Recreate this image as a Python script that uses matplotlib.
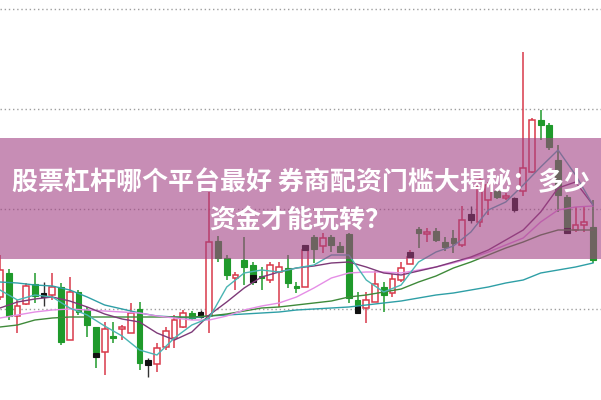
import matplotlib
matplotlib.use("Agg")
import matplotlib.pyplot as plt
from matplotlib.patches import Rectangle

plt.rcParams['font.family'] = ['Noto Sans CJK SC', 'DejaVu Sans']

# candle data (price units)
opens  = [103, 127, 84, 96, 116, 103, 105, 113, 60, 108, 90, 73, 48, 64, 71, 67, 91, 35, 36, 53,
          62, 73, 87, 83, 84, 159, 142, 122, 140, 135, 124, 120, 128, 132, 114, 113, 163, 154, 163, 154,
          166, 100, 92, 98, 113, 107, 120, 136, 171, 166, 169, 158, 162, 155, 180, 178, 200, 209, 202, 190,
          209, 228, 280, 275, 240, 203, 170, 175, 173]
closes = [130, 84, 94, 114, 104, 107, 113, 58, 108, 88, 75, 48, 71, 62, 73, 87, 37, 40, 52, 69,
          80, 87, 82, 88, 158, 142, 125, 125, 133, 125, 122, 135, 133, 117, 112, 150, 151, 162, 155, 148,
          102, 95, 100, 116, 105, 121, 132, 143, 167, 168, 160, 153, 157, 180, 186, 220, 215, 203, 204, 202,
          232, 280, 275, 253, 205, 172, 175, 178, 140]
highs  = [145, 131, 100, 117, 127, 118, 127, 117, 123, 110, 93, 73, 78, 78, 75, 97, 98, 42, 57, 73,
          85, 90, 89, 90, 208, 164, 145, 128, 163, 138, 133, 138, 138, 145, 118, 155, 165, 167, 165, 158,
          167, 108, 108, 129, 118, 126, 138, 150, 173, 172, 172, 163, 170, 194, 194, 222, 218, 212, 207, 203,
          348, 282, 290, 277, 255, 205, 193, 193, 200]
lows   = [100, 80, 67, 95, 97, 94, 100, 55, 60, 85, 63, 32, 25, 57, 60, 67, 30, 23, 28, 50,
          52, 72, 80, 82, 67, 138, 120, 110, 115, 115, 110, 117, 93, 112, 107, 113, 137, 147, 148, 147,
          97, 87, 77, 98, 88, 103, 118, 136, 152, 158, 158, 149, 147, 153, 177, 173, 185, 201, 200, 188,
          204, 227, 260, 250, 188, 167, 168, 168, 137]
# candles drawn as dark signal boxes
flag_candles = [5, 17, 23, 54, 59]
# extra dark boxes on top of candles: index, low, high
box_idx  = [11, 29, 35, 41, 47, 65]
box_low  = [43, 118, 150, 87, 143, 167]
box_high = [47, 125, 155, 94, 148, 172]

# moving averages sampled every other candle
ma_idx = list(range(0, 69, 2))
ma5  = [110, 100, 105, 103, 92, 85, 74, 64, 50, 45, 62, 75, 82, 113, 127, 130, 128, 132, 135, 145,
        145, 120, 108, 115, 138, 148, 154, 168, 190, 198, 215, 233, 250, 225, 195]
ma10 = [92, 98, 101, 103, 99, 93, 86, 81, 78, 67, 60, 68, 85, 98, 112, 123, 128, 132, 134, 137,
        138, 133, 127, 125, 129, 133, 138, 143, 150, 160, 170, 188, 212, 218, 195]
ma20 = [82, 85, 88, 90, 91, 90, 89, 88, 87, 84, 82, 80, 80, 84, 90, 94, 97, 103, 112, 122,
        127, 128, 128, 127, 130, 133, 137, 142, 148, 155, 162, 178, 190, 193, 194]
ma30 = [73, 75, 80, 82, 83, 83, 83, 83, 83, 83, 83, 83, 84, 86, 89, 92, 93, 95, 97, 99,
        103, 105, 108, 111, 118, 124, 132, 138, 145, 152, 158, 165, 170, 170, 170]
ma60 = [118, 117, 115, 114, 110, 103, 95, 91, 87, 84, 83, 82, 84, 85, 86, 87, 88, 90, 91, 92,
        93, 95, 97, 99, 102, 105, 107, 110, 113, 117, 120, 127, 130, 133, 137]

grid_levels = [91, 191, 291, 391]
title_1 = "股票杠杆哪个平台最好 券商配资门槛大揭秘：多少"
title_2 = "资金才能玩转？"

RED = '#d8394a'
GREEN = '#1f9a2b'

fig = plt.figure(figsize=(6.01, 4.0), dpi=100)
ax = fig.add_axes([0, 0, 1, 1])
ax.set_xlim(0, 68.92)
ax.set_ylim(0, 400)
ax.axis('off')

for g in grid_levels:
    ax.axhline(g, color='#9e9e9e', lw=1, ls=(0, (1, 2)), zorder=1)

w = 0.66
for i in range(len(opens)):
    o, c, h, l = opens[i], closes[i], highs[i], lows[i]
    bot, top = min(o, c), max(o, c)
    hgt = max(top - bot, 1.5)
    if i in flag_candles:
        ax.vlines(i, l, h, color='#333333', lw=1, zorder=2)
        ax.add_patch(Rectangle((i - w / 2, bot), w, max(hgt, 4), facecolor='#111111',
                               edgecolor='#111111', lw=0.8, zorder=2.5))
    elif c >= o:
        ax.vlines(i, l, h, color=RED, lw=1.1, zorder=2)
        ax.add_patch(Rectangle((i - w / 2, bot), w, hgt, facecolor='white',
                               edgecolor=RED, lw=1.1, zorder=2.5))
    else:
        ax.vlines(i, l, h, color=GREEN, lw=1.1, zorder=2)
        ax.add_patch(Rectangle((i - w / 2, bot), w, hgt, facecolor=GREEN,
                               edgecolor=GREEN, lw=0.8, zorder=2.5))

for j in range(len(box_idx)):
    ax.add_patch(Rectangle((box_idx[j] - w / 2, box_low[j]), w, box_high[j] - box_low[j],
                           facecolor='#111111', edgecolor='#111111', lw=0.8, zorder=2.6))

ax.plot(ma_idx, ma60, color='#2e9fa6', lw=1.0, zorder=3)
ax.plot(ma_idx, ma30, color='#3f8a3a', lw=1.0, zorder=3)
ax.plot(ma_idx, ma20, color='#e58ee6', lw=1.0, zorder=3)
ax.plot(ma_idx, ma10, color='#7d3a78', lw=1.0, zorder=3)
ax.plot(ma_idx, ma5, color='#4ab5b3', lw=1.0, zorder=3)

# title banner
ax.axhspan(141, 262, color='#a24184', alpha=0.6, lw=0, zorder=5)
fig.text(0.5, 0.5425, title_1, ha='center', va='center', color='white',
         fontsize=18.7, fontweight='bold', zorder=6)
fig.text(0.5, 0.45, title_2, ha='center', va='center', color='white',
         fontsize=18.7, fontweight='bold', zorder=6)

plt.savefig("out.png", dpi=100)
